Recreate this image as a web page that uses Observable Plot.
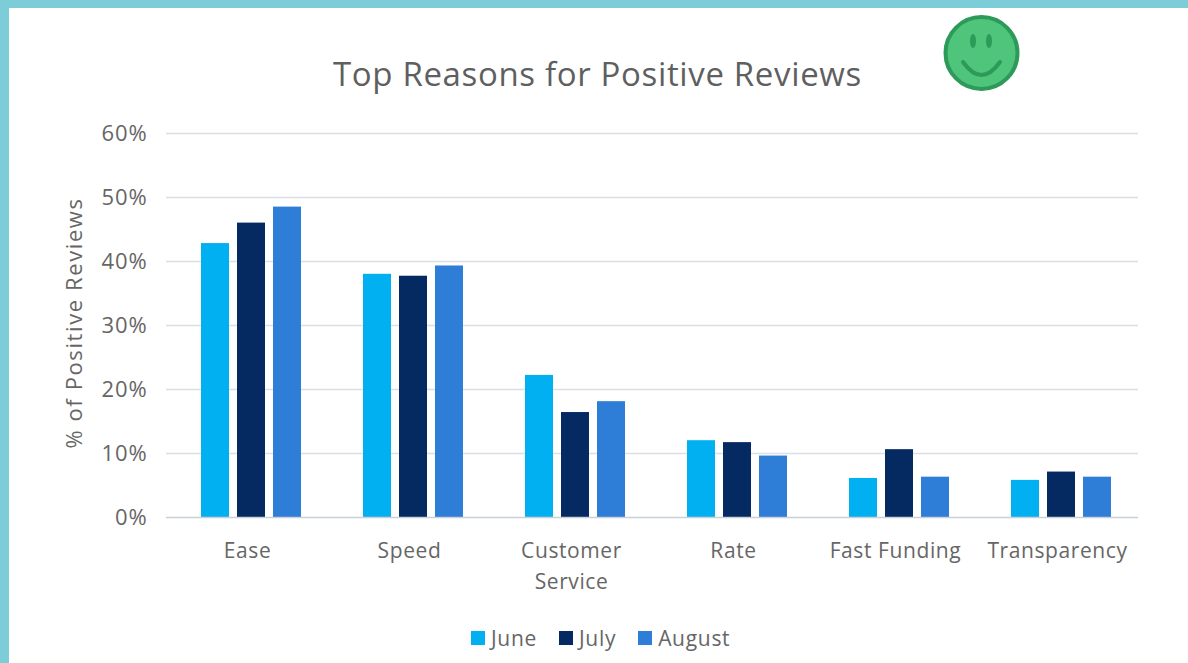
<!DOCTYPE html>
<html>
<head>
<meta charset="utf-8">
<script src="https://cdn.jsdelivr.net/npm/d3@7"></script>
<script src="https://cdn.jsdelivr.net/npm/@observablehq/plot@0.6"></script>
<style>
html,body{margin:0;padding:0;background:#fff;}
#page{position:relative;width:1188px;height:663px;overflow:hidden;background:#fff;font-family:"Open Sans",sans-serif;color:#666;}
#edge-top{position:absolute;left:0;top:0;width:1188px;height:8px;background:#7ccdd8;}
#edge-left{position:absolute;left:0;top:0;width:9px;height:663px;background:#7ccdd8;}
#title{position:absolute;left:333px;top:51px;font-size:33px;line-height:46px;white-space:nowrap;color:#5f5f5f;letter-spacing:.65px;}
#smile{position:absolute;left:942px;top:14px;}
#legend{position:absolute;left:471px;top:624px;display:flex;font-size:21px;line-height:28px;color:#666;letter-spacing:.7px;}
#legend span{display:flex;align-items:center;white-space:nowrap;margin-right:22px;}
#legend i{display:inline-block;width:14px;height:14px;margin-right:6px;}
#chart{position:absolute;left:0;top:0;}
</style>
</head>
<body>
<div id="page">
<div id="chart"></div>
<div id="edge-top"></div>
<div id="edge-left"></div>
<div id="title"></div>
<svg id="smile" width="80" height="80" viewBox="0 0 80 80">
<circle cx="39.500" cy="39" r="36" fill="#4ec57a" stroke="#2e9a5a" stroke-width="4"/>
<ellipse cx="31" cy="27" rx="3" ry="7" fill="#2e9a5a"/>
<ellipse cx="47" cy="27" rx="3" ry="7" fill="#2e9a5a"/>
<path d="M21 48 Q39.500 74 58 48" fill="none" stroke="#2e9a5a" stroke-width="4" stroke-linecap="round"/>
</svg>
<div id="legend"></div>
</div>
<script>
const titleText = "Top Reasons for Positive Reviews";
const yLabel = "% of Positive Reviews";
const categories = ["Ease","Speed","Customer Service","Rate","Fast Funding","Transparency"];
const months = ["June","July","August"];
const colors = ["#00b0f0","#052a62","#2e7dd6"];
const june = [42.8,38,22.2,12,6.1,5.8];
const july = [46,37.7,16.4,11.7,10.6,7.1];
const august = [48.5,39.3,18.1,9.6,6.3,6.3];
const yTicks = [0,10,20,30,40,50,60];

const series = [june,july,august];
const rows = categories.flatMap((c,i)=>months.map((m,j)=>({category:c,month:m,value:series[j][i]})));

document.getElementById("title").textContent = titleText;
const legend = document.getElementById("legend");
months.forEach((m,j)=>{
  const s=document.createElement("span");
  const k=document.createElement("i");
  k.style.background=colors[j];
  s.appendChild(k);
  s.appendChild(document.createTextNode(m));
  legend.appendChild(s);
});

const chart = Plot.plot({
  width:1188,height:663,
  marginLeft:166,marginRight:48,marginTop:133,marginBottom:146,
  style:{fontFamily:'"Open Sans",sans-serif',background:"transparent",color:"#666"},
  fx:{domain:categories,range:[166,1138],padding:0,label:null},
  x:{domain:months,paddingInner:0.222,paddingOuter:0.861,align:0.565,axis:null},
  y:{domain:[0,60],label:null},
  color:{domain:months,range:colors},
  marks:[
    Plot.ruleY(yTicks.filter(d=>d>0),{stroke:"#dcdfe3",strokeWidth:1.500,strokeOpacity:1}),
    Plot.barY(rows,{fx:"category",x:"month",y:"value",fill:"month"}),
    Plot.ruleY([0],{stroke:"#c9d0d8",strokeWidth:1.500,strokeOpacity:1}),
    Plot.axisY({ticks:yTicks,tickFormat:d=>d+"%",tickSize:0,tickPadding:19,fontSize:22,
      label:yLabel,labelAnchor:"center",labelArrow:"none",labelOffset:100,fill:"#666"}),
    Plot.axisFx({anchor:"bottom",tickSize:0,tickPadding:18,fontSize:21,label:null,lineHeight:1.48,
      tickFormat:d=>d==="Customer Service"?"Customer\nService":d,fill:"#666"})
  ]
});
document.getElementById("chart").appendChild(chart);
chart.querySelectorAll("text").forEach(t=>{
  if(t.textContent===yLabel){
    t.style.letterSpacing="1.6px";
    t.setAttribute("dx","2.5");
  } else {
    t.style.letterSpacing=/%$/.test(t.textContent)?".9px":".6px";
  }
});
</script>
</body>
</html>
